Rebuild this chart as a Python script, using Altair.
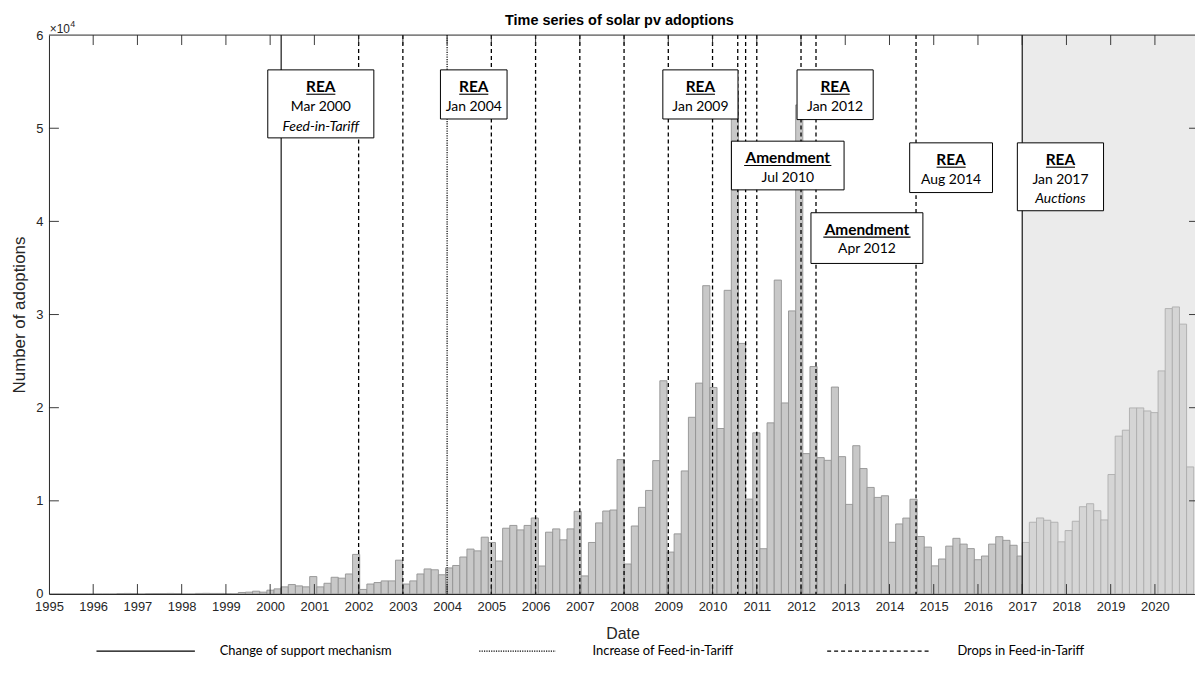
import altair as alt
import pandas as pd

# ---------------- data ----------------
BIN_DAYS = 59                      # width of one histogram bin (days)
pre_anchor = "2000-04-01"          # bin edge of the pre-auction series
pre_first_k = -33                  # index of first bin relative to anchor
pre_counts = [
    0, 0, 0, 0, 0, 0, 0, 0, 0, 0,
    50, 60, 50, 0,
    40, 50, 50, 60, 50,
    0, 0,
    60, 70, 60, 60,
    30, 20,
    160, 200, 300, 200, 410, 550,
    765, 1015, 870, 765, 1870, 765, 1150, 1795, 1700, 2150,
    4250, 490, 1070, 1230, 1405, 1405, 3630, 1070, 1405, 2150,
    2690, 2600, 2065, 2800, 3060, 3970, 4820, 4630, 6100, 5530,
    3540, 7060, 7360, 6880, 7360, 8160, 3005, 6635, 6990, 5815,
    6990, 8875, 1940, 5530, 7630, 8910, 9015, 14425, 3220, 7300,
    9300, 11115, 14320, 22890, 4500, 6455, 13210, 18970, 22640, 33100,
    22170, 17765, 32600, 54000, 26900, 10190, 17300, 4860, 18370, 33700,
    20510, 30390, 52500, 15070, 24415, 14640, 14350, 22215, 14745, 9620,
    15920, 13465, 11440, 10370, 10545, 5550, 7520, 8150, 10170, 6170,
    5035, 3020, 3755, 5140, 5975, 5355, 4870, 3680, 4075, 5355,
    6150, 5760, 5230, 4075,
]
post_anchor = "2017-01-01"
post_counts = [5530, 7700, 8160, 7915, 7700, 5600, 6810, 7810, 9370, 9690, 8940, 7950,
               12825, 16945, 17585, 19975, 19975, 19650, 19470, 23950, 30640, 30815, 28970, 13640]

change_dates = ["2000-04-01", "2017-01-01"]
increase_dates = ["2004-01-01"]
drop_dates = ["2002-01-01", "2003-01-01", "2005-01-01", "2006-01-01", "2007-01-01",
              "2008-01-01", "2009-01-01", "2010-01-01", "2010-07-28", "2010-10-01",
              "2011-01-01", "2012-01-01", "2012-05-04", "2014-08-08"]

tick_years = list(range(1995, 2021))
y_ticks = [0, 10000, 20000, 30000, 40000, 50000, 60000]

box_lines = [
    ["REA", "Mar 2000", "Feed-in-Tariff"],
    ["REA", "Jan 2004"],
    ["REA", "Jan 2009"],
    ["REA", "Jan 2012"],
    ["Amendment", "Jul 2010"],
    ["Amendment", "Apr 2012"],
    ["REA", "Aug 2014"],
    ["REA", "Jan 2017", "Auctions"],
]
legend_labels = ["Change of support mechanism", "Increase of Feed-in-Tariff", "Drops in Feed-in-Tariff"]
title_text = "Time series of solar pv adoptions"
x_title = "Date"
y_title = "Number of adoptions"

# ---------------- layout ----------------
W, H = 1152.8, 562.2
OX, OY = 49.2, 33.3            # page position of plot origin
X_MAX = 2020.906
# annotation boxes (page px): left, right, top, bottom
box_layout = [
    (269.3, 376.0, 68.3, 136.7),
    (443.0, 510.0, 68.3, 117.7),
    (666.7, 742.3, 68.3, 117.7),
    (801.7, 878.3, 68.3, 118.3),
    (735.7, 849.0, 140.0, 189.0),
    (815.7, 928.3, 212.0, 263.0),
    (915.0, 998.3, 141.7, 191.7),
    (1023.3, 1110.0, 141.7, 210.0),
]
line_offsets = [22.0, 41.0, 61.0]
legend_layout = [(97, 196, 221), (482, 559, 596), (832, 935, 963)]
legend_y = 653
AX = "#262626"
FONT = "Liberation Sans"
BOXFONT = "Lato"


def dec_year(ts):
    ts = pd.Timestamp(ts)
    y0 = pd.Timestamp(year=ts.year, month=1, day=1)
    y1 = pd.Timestamp(year=ts.year + 1, month=1, day=1)
    return ts.year + (ts - y0) / (y1 - y0)


def make_bins(anchor, first_k, counts, cap=None):
    a = pd.Timestamp(anchor)
    rows = []
    for i, c in enumerate(counts):
        k = first_k + i
        s = a + pd.Timedelta(days=BIN_DAYS * k)
        e = s + pd.Timedelta(days=BIN_DAYS)
        x0, x1 = dec_year(s), dec_year(e)
        if cap is not None:
            x1 = min(x1, cap)
        rows.append({"x0": x0, "x1": x1, "count": c, "base": 0})
    return pd.DataFrame(rows)


auction_x = dec_year(post_anchor)
df_pre = make_bins(pre_anchor, pre_first_k, pre_counts, cap=auction_x)
df_post = make_bins(post_anchor, 0, post_counts)

xs = alt.Scale(domain=[1995, X_MAX], nice=False, zero=False)
ys = alt.Scale(domain=[0, 60000], nice=False, zero=True)

x_axis = alt.Axis(values=tick_years, format="d", ticks=False, grid=False, domain=True,
                  domainColor=AX, domainWidth=1, labelFlush=False, labelOverlap=False,
                  labelFont=FONT, labelFontSize=13, labelColor=AX, labelPadding=7,
                  title=x_title, titleFont=FONT, titleFontSize=16, titleFontWeight="normal",
                  titleColor=AX, titleX=577, titleY=40, titleBaseline="middle",
                  titleAlign="center", zindex=1)
y_axis = alt.Axis(values=y_ticks, labelExpr="datum.value / 10000", ticks=False, grid=False,
                  domain=True, domainColor=AX, domainWidth=1, labelFont=FONT, labelFontSize=13,
                  labelColor=AX, labelPadding=6, title=y_title, titleFont=FONT, titleFontSize=17,
                  titleFontWeight="normal", titleColor=AX, titleX=-29.2, titleY=H / 2,
                  titleBaseline="middle", titleAlign="center", titleAngle=270, zindex=1)


def X(field):
    return alt.X(field, type="quantitative", scale=xs, axis=x_axis)


def Y(field):
    return alt.Y(field, type="quantitative", scale=ys, axis=y_axis)


one = pd.DataFrame({"a": [0]})
layers = []

# shaded auction period
df_shade = pd.DataFrame({"x0": [auction_x], "x1": [X_MAX]})
layers.append(alt.Chart(df_shade).mark_rect(fill="#ebebeb").encode(
    x=X("x0"), x2="x1", y=alt.value(0), y2=alt.value(H)))

# bars
layers.append(alt.Chart(df_pre).mark_rect(fill="#c8c8c8", stroke="#929292", strokeWidth=0.9,
                                          clip=True).encode(
    x=X("x0"), x2="x1", y=Y("count"), y2="base"))
layers.append(alt.Chart(df_post).mark_rect(fill="#d5d5d5", stroke="#adadad", strokeWidth=0.9,
                                           clip=True).encode(
    x=X("x0"), x2="x1", y=Y("count"), y2="base"))

# event lines
def events(dates, **kw):
    d = pd.DataFrame({"x": [dec_year(t) for t in dates]})
    return alt.Chart(d).mark_rule(color="black", **kw).encode(
        x=X("x"), y=alt.value(0), y2=alt.value(H))


layers.append(events(change_dates, strokeWidth=1.1))
layers.append(events(increase_dates, strokeWidth=1.2, strokeDash=[1.2, 1.2]))
layers.append(events(drop_dates, strokeWidth=1.3, strokeDash=[4, 3]))

# inward ticks and top border
df_xt = pd.DataFrame({"year": tick_years[1:]})
df_yt = pd.DataFrame({"v": y_ticks[1:-1]})
layers.append(alt.Chart(df_xt).mark_rule(color=AX, strokeWidth=0.9).encode(
    x=X("year"), y=alt.value(H), y2=alt.value(H - 10)))
layers.append(alt.Chart(df_xt).mark_rule(color=AX, strokeWidth=0.9).encode(
    x=X("year"), y=alt.value(0), y2=alt.value(10)))
layers.append(alt.Chart(df_yt).mark_rule(color=AX, strokeWidth=0.9).encode(
    y=Y("v"), x=alt.value(0), x2=alt.value(10)))
layers.append(alt.Chart(df_yt).mark_rule(color=AX, strokeWidth=0.9).encode(
    y=Y("v"), x=alt.value(W - 6), x2=alt.value(W)))
layers.append(alt.Chart(one).mark_rule(color=AX, strokeWidth=1).encode(
    x=alt.value(0), x2=alt.value(W), y=alt.value(0)))

# annotation boxes
for lines, (l, r, t, b) in zip(box_lines, box_layout):
    l, r, t, b = l - OX, r - OX, t - OY, b - OY
    cx = (l + r) / 2
    layers.append(alt.Chart(one).mark_rect(fill="white", stroke="black", strokeWidth=1).encode(
        x=alt.value(l), x2=alt.value(r), y=alt.value(t), y2=alt.value(b)))
    for i, txt in enumerate(lines):
        d = pd.DataFrame({"t": [txt]})
        if i == 0:
            kw = dict(fontSize=15.5, fontWeight="bold", fontStyle="normal")
        elif i == 2:
            kw = dict(fontSize=14, fontWeight="normal", fontStyle="italic")
        else:
            kw = dict(fontSize=14, fontWeight="normal", fontStyle="normal")
        layers.append(alt.Chart(d).mark_text(font=BOXFONT, color="black", align="center",
                                             baseline="alphabetic", **kw).encode(
            text="t:N", x=alt.value(cx), y=alt.value(t + line_offsets[i])))
    uw = 9.75 * len(lines[0])
    layers.append(alt.Chart(one).mark_rule(color="black", strokeWidth=1.1).encode(
        x=alt.value(cx - uw / 2), x2=alt.value(cx + uw / 2), y=alt.value(t + 24.5)))

# title and exponent
layers.append(alt.Chart(pd.DataFrame({"t": [title_text]})).mark_text(
    font=FONT, fontSize=14.5, fontWeight="bold", color="black", align="center",
    baseline="alphabetic").encode(text="t:N", x=alt.value(623 - OX), y=alt.value(23.5 - OY)))
layers.append(alt.Chart(pd.DataFrame({"t": ["\u00d710"]})).mark_text(
    font=FONT, fontSize=12, color=AX, align="left", baseline="alphabetic").encode(
    text="t:N", x=alt.value(50 - OX), y=alt.value(31 - OY)))
layers.append(alt.Chart(pd.DataFrame({"t": ["4"]})).mark_text(
    font=FONT, fontSize=9, color=AX, align="left", baseline="alphabetic").encode(
    text="t:N", x=alt.value(70.5 - OX), y=alt.value(25 - OY)))

# legend
styles = [dict(strokeWidth=1.1), dict(strokeWidth=1.1, strokeDash=[1.2, 1.2]),
          dict(strokeWidth=1.2, strokeDash=[4, 3])]
for lab, (x0, x1, tx), st in zip(legend_labels, legend_layout, styles):
    layers.append(alt.Chart(one).mark_rule(color="black", **st).encode(
        x=alt.value(x0 - OX), x2=alt.value(x1 - OX), y=alt.value(legend_y - OY)))
    layers.append(alt.Chart(pd.DataFrame({"t": [lab]})).mark_text(
        font=BOXFONT, fontSize=13, color="black", align="left", baseline="middle").encode(
        text="t:N", x=alt.value(tx - OX), y=alt.value(legend_y - OY)))

chart = alt.layer(*layers).properties(
    width=W, height=H,
    padding={"left": OX - 8, "top": OY - 8, "right": 0, "bottom": 72},
    autosize=alt.AutoSizeParams(type="none"),
    background="white",
).configure_view(stroke=None)

chart.save("out.html", embed_options={"renderer": "svg", "actions": False})
